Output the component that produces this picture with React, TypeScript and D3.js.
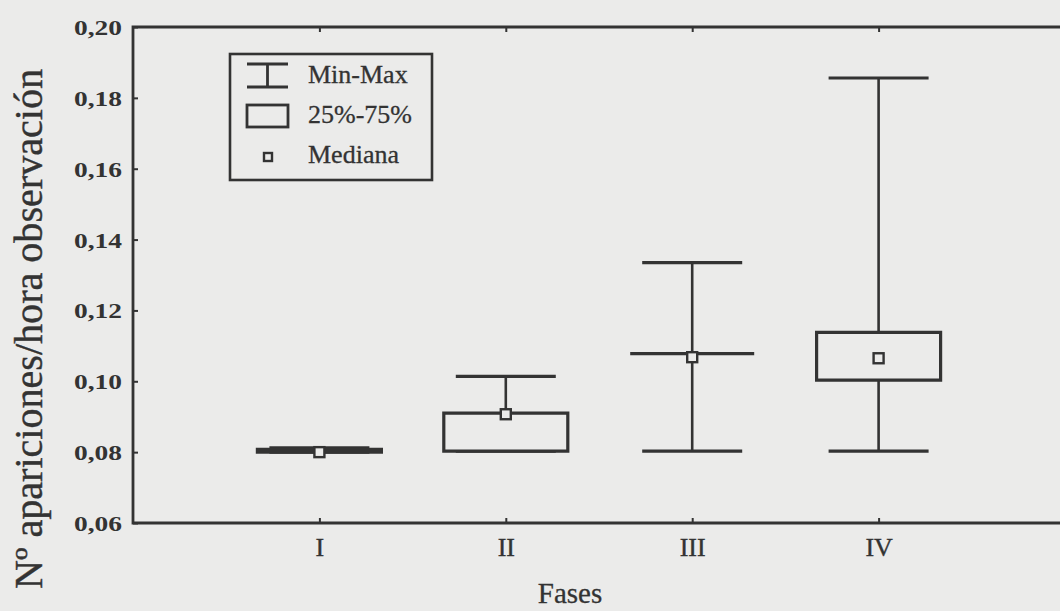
import React, { useEffect, useRef } from "react";
import * as d3 from "d3";

// phases and box statistics
const phases = ["I", "II", "III", "IV"];
const minVals = [0.0800, 0.0803, 0.0803, 0.0803];
const q1Vals = [0.0800, 0.0803, 0.1078, 0.1003];
const medianVals = [0.0800, 0.0907, 0.1068, 0.1065];
const q3Vals = [0.0808, 0.0910, 0.1078, 0.1138];
const maxVals = [0.0812, 0.1014, 0.1335, 0.1856];

const yTicks = [0.06, 0.08, 0.10, 0.12, 0.14, 0.16, 0.18, 0.20];
const legendItems = ["Min-Max", "25%-75%", "Mediana"];

const paper = "#ebebea";
const ink = "#333333";

export default function App() {
  const ref = useRef<SVGSVGElement>(null);

  const layout = { width: 1060, height: 611, left: 133, right: 1065, top: 27, bottom: 523 };

  useEffect(() => {
    const svg = d3.select(ref.current);
    svg.selectAll("*").remove();

    svg.append("rect")
      .attr("width", layout.width)
      .attr("height", layout.height)
      .attr("fill", paper);

    const x = d3.scalePoint<string>()
      .domain(phases)
      .range([layout.left, layout.right])
      .padding(1);

    const y = d3.scaleLinear()
      .domain([0.06, 0.20])
      .range([layout.bottom, layout.top]);

    const font = "'Liberation Serif', 'DejaVu Serif', serif";

    // frame
    svg.append("path")
      .attr("d", `M${layout.right},${layout.top}H${layout.left}V${layout.bottom}H${layout.right}`)
      .attr("fill", "none")
      .attr("stroke", ink)
      .attr("stroke-width", 2.8);

    // y axis
    const yAxis = svg.append("g")
      .attr("transform", `translate(${layout.left},0)`)
      .call(d3.axisRight(y).tickValues(yTicks).tickSize(5).tickFormat(d => d3.format(".2f")(d as number).replace(".", ",")));
    yAxis.select(".domain").remove();
    yAxis.selectAll("line").attr("stroke", ink).attr("stroke-width", 2);
    yAxis.selectAll("text")
      .attr("x", -11)
      .attr("dy", "0.34em")
      .attr("text-anchor", "end")
      .attr("font-family", font)
      .attr("font-weight", "bold")
      .attr("font-size", 22)
      .attr("textLength", 48)
      .attr("lengthAdjust", "spacingAndGlyphs")
      .attr("fill", ink);

    // x axis (bottom + top tick marks)
    const xAxis = svg.append("g")
      .attr("transform", `translate(0,${layout.bottom})`)
      .call(d3.axisTop(x).tickSize(5));
    xAxis.select(".domain").remove();
    xAxis.selectAll("line").attr("stroke", ink).attr("stroke-width", 2);
    xAxis.selectAll("text")
      .attr("y", 33)
      .attr("dy", 0)
      .attr("font-family", font)
      .attr("font-size", 26)
      .attr("stroke", ink)
      .attr("stroke-width", 0.4)
      .attr("fill", ink);

    const xTop = svg.append("g")
      .attr("transform", `translate(0,${layout.top})`)
      .call(d3.axisBottom(x).tickSize(5).tickFormat(() => ""));
    xTop.select(".domain").remove();
    xTop.selectAll("line").attr("stroke", ink).attr("stroke-width", 2);

    // axis titles
    svg.append("text")
      .attr("transform", `translate(42,329) rotate(-90)`)
      .attr("text-anchor", "middle")
      .attr("font-family", font)
      .attr("font-size", 40)
      .attr("stroke", ink)
      .attr("stroke-width", 0.4)
      .attr("fill", ink)
      .attr("textLength", 520)
      .attr("lengthAdjust", "spacingAndGlyphs")
      .text("Nº apariciones/hora observación");

    svg.append("text")
      .attr("x", 570)
      .attr("y", 603)
      .attr("text-anchor", "middle")
      .attr("font-family", font)
      .attr("font-size", 29)
      .attr("stroke", ink)
      .attr("stroke-width", 0.3)
      .attr("fill", ink)
      .text("Fases");

    // boxes
    const boxW = 124;
    const capW = 100;
    const groups = svg.append("g")
      .selectAll("g")
      .data(phases)
      .join("g");

    groups.append("line")
      .attr("x1", d => x(d)!)
      .attr("x2", d => x(d)!)
      .attr("y1", (d, i) => y(maxVals[i]))
      .attr("y2", (d, i) => y(minVals[i]))
      .attr("stroke", ink)
      .attr("stroke-width", 2.6);

    [maxVals, minVals].forEach(vals => {
      groups.append("line")
        .attr("x1", d => x(d)! - capW / 2)
        .attr("x2", d => x(d)! + capW / 2)
        .attr("y1", (d, i) => y(vals[i]))
        .attr("y2", (d, i) => y(vals[i]))
        .attr("stroke", ink)
        .attr("stroke-width", 3.2);
    });

    groups.append("path")
      .attr("d", (d, i) => {
        const p = d3.path();
        const x0 = x(d)! - boxW / 2;
        p.moveTo(x0, y(q3Vals[i]));
        p.lineTo(x0 + boxW, y(q3Vals[i]));
        p.lineTo(x0 + boxW, y(q1Vals[i]));
        p.lineTo(x0, y(q1Vals[i]));
        p.closePath();
        return p.toString();
      })
      .attr("fill", paper)
      .attr("stroke", ink)
      .attr("stroke-width", 3.2);

    groups.append("rect")
      .attr("x", d => x(d)! - 5)
      .attr("y", (d, i) => y(medianVals[i]) - 5)
      .attr("width", 10)
      .attr("height", 10)
      .attr("fill", paper)
      .attr("stroke", ink)
      .attr("stroke-width", 2.4);

    // legend
    const lg = svg.append("g").attr("transform", "translate(230,54)");
    lg.append("rect")
      .attr("width", 202)
      .attr("height", 126)
      .attr("fill", paper)
      .attr("stroke", ink)
      .attr("stroke-width", 2.6);

    const icon = lg.append("g").attr("stroke", ink).attr("fill", paper);
    icon.append("path").attr("d", "M17,10H58M37.5,10V33M17,33H58").attr("stroke-width", 2.8);
    icon.append("rect").attr("x", 17).attr("y", 51).attr("width", 41).attr("height", 22).attr("stroke-width", 2.8);
    icon.append("rect").attr("x", 34).attr("y", 99).attr("width", 8).attr("height", 8).attr("stroke-width", 2.4);

    lg.selectAll("text.leg")
      .data(legendItems)
      .join("text")
      .attr("class", "leg")
      .attr("x", 78)
      .attr("y", (d, i) => 29 + i * 40)
      .attr("font-family", font)
      .attr("font-size", 26)
      .attr("stroke", ink)
      .attr("stroke-width", 0.3)
      .attr("fill", ink)
      .text(d => d);
  }, []);

  return (
    <div style={{ position: "absolute", left: 0, top: 0 }}>
      <svg ref={ref} width={1060} height={611} style={{ display: "block" }} />
    </div>
  );
}
